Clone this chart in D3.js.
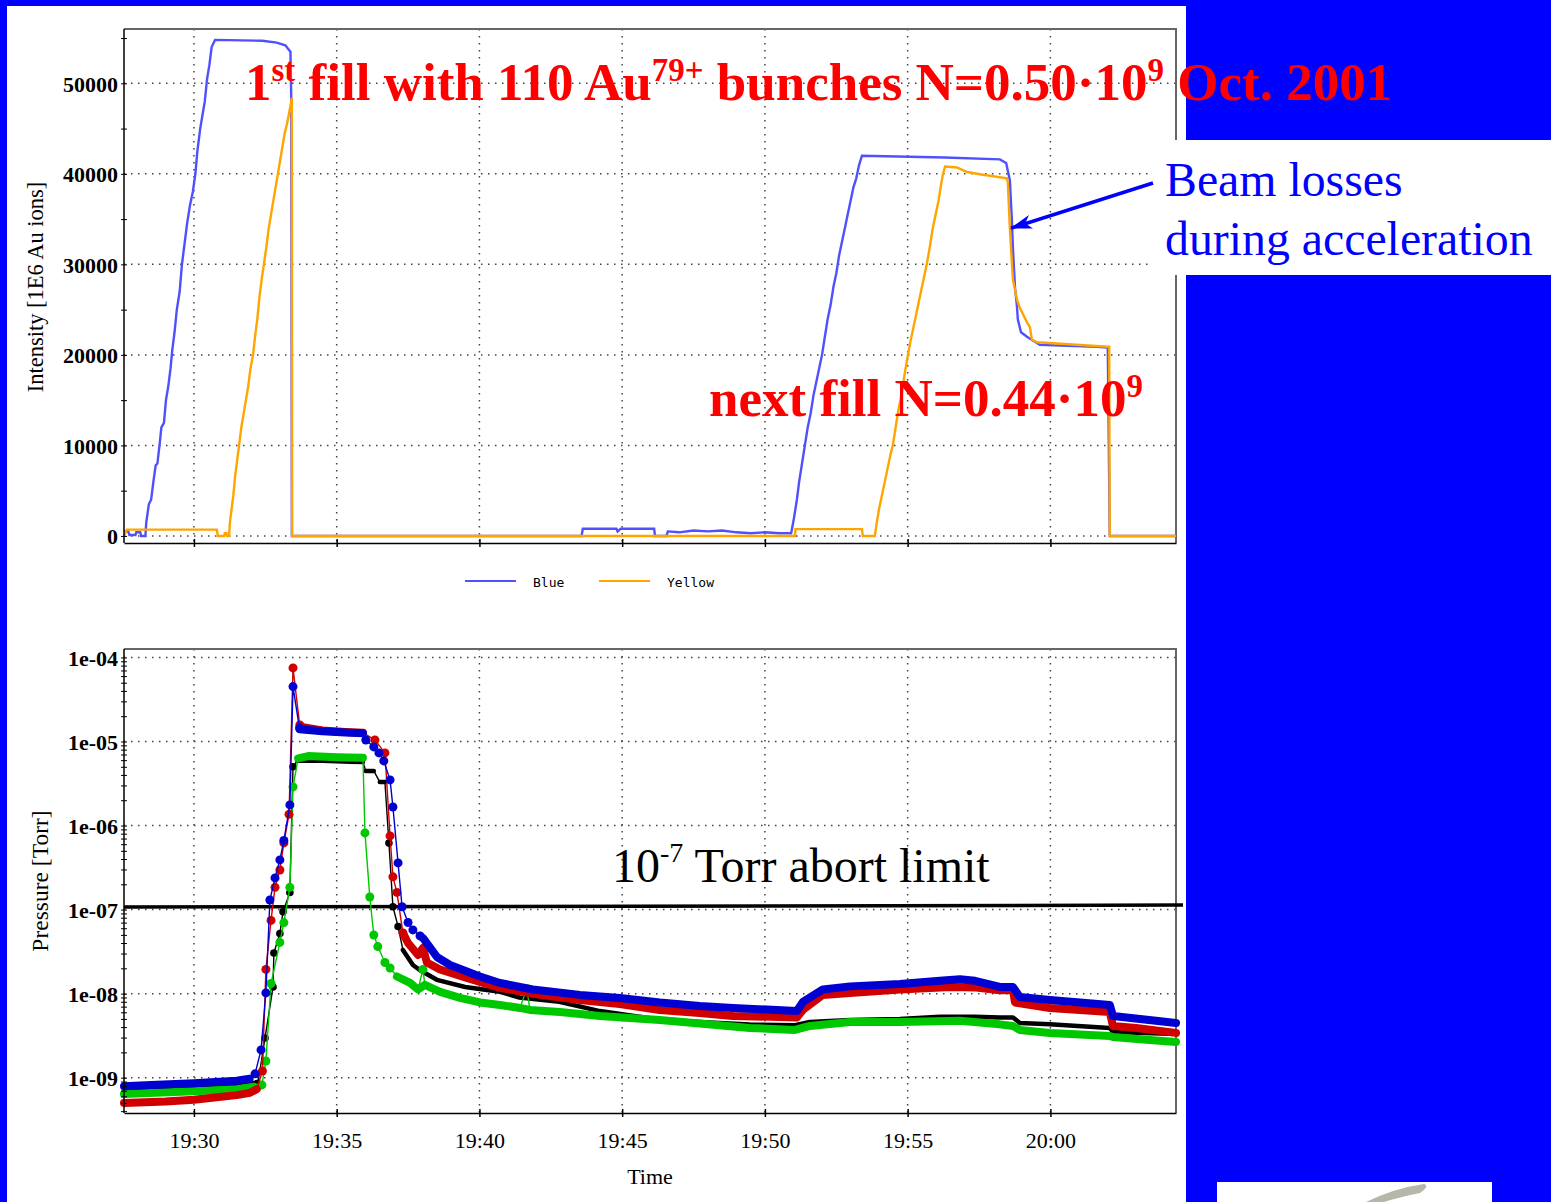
<!DOCTYPE html>
<html>
<head>
<meta charset="utf-8">
<script src="https://d3js.org/d3.v7.min.js"></script>
<style>
    body { margin: 0; background: #0000ff; }
    svg text { font-family: "Liberation Serif", "Times New Roman", serif; }
    .legend text { font-family: "DejaVu Sans Mono", monospace; }
</style>
</head>
<body>
<div id="container"></div>
<script>
// time values are minutes after 19:00
const timeTicks = ["19:30", "19:35", "19:40", "19:45", "19:50", "19:55", "20:00"];
const intensityTicks = [0, 10000, 20000, 30000, 40000, 50000];
const intensityMinor = [5000, 15000, 25000, 35000, 45000, 55000];
const pressureTicks = [1e-9, 1e-8, 1e-7, 1e-6, 1e-5, 1e-4];
const abortLimit = 1.07e-7;

const blueIntensity = [
    [27.55, 500], [27.70, 500], [27.74, 100], [27.95, 100], [27.98, 400], [28.12, 400], [28.15, 0], [28.30, 0],
    [28.33, 1500], [28.42, 3500], [28.50, 4000], [28.58, 6000], [28.66, 7800], [28.72, 8000], [28.80, 10200],
    [28.86, 12000], [28.95, 12500], [29.02, 15000], [29.10, 16500], [29.18, 18500], [29.24, 20500], [29.32, 22500],
    [29.40, 25000], [29.50, 27000], [29.58, 30000], [29.66, 32000], [29.76, 34500], [29.86, 36500], [29.96, 38000],
    [30.05, 40000], [30.12, 42500], [30.22, 45000], [30.30, 46500], [30.38, 48000], [30.46, 50500], [30.54, 52000],
    [30.62, 54000], [30.74, 54800], [32.40, 54700], [32.90, 54500], [33.20, 54200], [33.38, 53500], [33.41, 48000],
    [33.43, 0], [43.58, 0], [43.62, 800], [44.80, 800], [44.84, 500], [44.95, 800], [46.12, 800], [46.15, 0],
    [46.55, 0], [46.60, 500], [47.00, 400], [47.50, 600], [48.00, 500], [48.50, 600], [49.00, 400], [49.50, 300],
    [50.00, 400], [50.50, 300], [50.92, 300], [51.02, 2000], [51.12, 4000], [51.20, 6000], [51.30, 8000],
    [51.40, 10000], [51.50, 12000], [51.60, 13500], [51.70, 15500], [51.80, 17000], [51.90, 18500], [52.00, 20000],
    [52.10, 22000], [52.20, 24000], [52.30, 25500], [52.40, 27500], [52.50, 29000], [52.60, 31000], [52.70, 32500],
    [52.80, 34000], [52.90, 35500], [53.00, 37000], [53.10, 38500], [53.20, 39500], [53.30, 41000], [53.40, 42000],
    [56.30, 41800], [58.23, 41600], [58.45, 41200], [58.58, 39300], [58.65, 35000], [58.69, 31600], [58.76, 27500],
    [58.83, 25300], [58.86, 23900], [58.97, 22500], [59.18, 22000], [59.63, 21100], [61.63, 20900], [62.01, 20800],
    [62.08, 0], [64.40, 0]
];

const yellowIntensity = [
    [27.55, 0], [27.65, 700], [30.80, 700], [30.84, 0], [31.06, 0], [31.08, 300], [31.14, 300], [31.16, 0], [31.23, 0],
    [31.26, 1500], [31.32, 3000], [31.38, 4500], [31.44, 6500], [31.50, 8000], [31.58, 10000], [31.66, 12000],
    [31.74, 13500], [31.82, 15000], [31.90, 16500], [31.98, 18500], [32.07, 20000], [32.14, 22000], [32.22, 24000],
    [32.30, 26500], [32.38, 28500], [32.45, 30000], [32.54, 32000], [32.62, 34000], [32.70, 35500], [32.78, 37000],
    [32.86, 38500], [32.94, 40000], [33.02, 41500], [33.10, 43000], [33.18, 44500], [33.26, 45500], [33.32, 46500],
    [33.38, 47500], [33.43, 48400], [33.44, 0], [51.05, 0], [51.07, 750], [53.40, 750], [53.43, 0], [53.85, 0],
    [53.92, 1500], [54.00, 3000], [54.10, 4500], [54.20, 6000], [54.30, 7500], [54.40, 9000], [54.48, 10000],
    [54.58, 12000], [54.68, 14000], [54.78, 15500], [54.90, 18000], [55.01, 20000], [55.10, 21500], [55.20, 23000],
    [55.30, 24500], [55.40, 26000], [55.50, 27500], [55.60, 29000], [55.67, 30000], [55.78, 32000], [55.88, 34000],
    [55.98, 35500], [56.08, 37000], [56.18, 39000], [56.24, 40000], [56.31, 40800], [56.73, 40700], [57.08, 40200],
    [57.64, 39900], [58.48, 39500], [58.51, 39000], [58.58, 34000], [58.65, 30200], [58.69, 28300], [58.83, 26100],
    [58.93, 25200], [59.18, 23600], [59.28, 23100], [59.35, 21700], [59.53, 21400], [62.01, 20900], [62.06, 20900],
    [62.08, 0], [64.40, 0]
];

// pressure gauges: dense stretches (bands) and single readings (dots)
const bluePressureBand = [
    [[27.55, 7.9e-10], [28.5, 8.2e-10], [30.0, 8.6e-10], [31.5, 9.2e-10], [31.95, 9.7e-10]],
    [[33.70, 1.40e-5], [34.5, 1.32e-5], [35.3, 1.28e-5], [35.92, 1.25e-5]],
    [[37.92, 4.86e-8], [38.02, 4.6e-8], [38.51, 2.73e-8], [38.97, 2.19e-8], [40.02, 1.60e-8], [40.72, 1.34e-8],
     [41.87, 1.12e-8], [43.52, 9.66e-9], [44.92, 8.89e-9], [46.32, 7.85e-9], [47.72, 7.14e-9], [48.88, 6.76e-9],
     [51.12, 6.22e-9], [51.33, 7.96e-9], [52.03, 1.12e-8], [52.98, 1.22e-8], [54.73, 1.30e-8], [56.13, 1.42e-8],
     [56.83, 1.48e-8], [57.36, 1.42e-8], [58.23, 1.20e-8], [58.69, 1.20e-8], [58.93, 9.14e-9], [59.98, 8.41e-9],
     [62.08, 7.34e-9], [62.19, 5.43e-9], [64.40, 4.48e-9]]
];
const bluePressureDots = [
    [32.14, 1.11e-9], [32.35, 2.14e-9], [32.52, 1.02e-8], [32.66, 1.30e-7], [32.84, 2.38e-7], [33.01, 3.90e-7],
    [33.15, 6.65e-7], [33.36, 1.76e-6], [33.47, 4.5e-5], [33.70, 1.45e-5], [36.02, 1.04e-5], [36.30, 8.62e-6],
    [36.48, 7.31e-6], [36.65, 5.87e-6], [36.87, 3.49e-6], [36.97, 1.66e-6], [37.15, 3.59e-7], [37.29, 1.08e-7],
    [37.50, 7.03e-8], [37.67, 5.73e-8], [37.92, 4.86e-8]
];

const redPressureBand = [
    [[27.55, 5.0e-10], [29.0, 5.2e-10], [30.0, 5.45e-10], [31.5, 6.2e-10], [31.96, 6.6e-10], [32.2, 7.3e-10]],
    [[33.71, 1.50e-5], [34.5, 1.35e-5], [35.3, 1.30e-5], [35.92, 1.27e-5]],
    [[37.32, 5.27e-8], [37.50, 4.0e-8], [37.85, 2.88e-8], [38.02, 3.5e-8], [38.16, 2.35e-8], [38.62, 1.94e-8],
     [39.56, 1.54e-8], [40.72, 1.17e-8], [42.12, 9.66e-9], [43.52, 8.41e-9], [44.92, 7.54e-9], [46.32, 6.4e-9],
     [47.72, 5.89e-9], [48.88, 5.43e-9], [51.12, 5.21e-9], [51.33, 6.4e-9], [52.03, 9.66e-9], [52.98, 1.02e-8],
     [54.73, 1.12e-8], [56.5, 1.20e-8], [57.4, 1.18e-8], [58.23, 1.10e-8], [58.69, 1.10e-8], [58.76, 7.85e-9],
     [59.98, 6.76e-9], [62.08, 6.05e-9], [62.19, 4.13e-9], [63.0, 3.9e-9], [64.40, 3.41e-9]]
];
const redPressureDots = [
    [32.40, 1.2e-9], [32.52, 1.94e-8], [32.70, 7.43e-8], [32.84, 1.84e-7], [33.01, 2.96e-7], [33.15, 6.21e-7],
    [33.33, 1.36e-6], [33.47, 7.5e-5], [33.71, 1.57e-5], [36.34, 1.04e-5], [36.69, 7.31e-6], [36.87, 7.52e-7],
    [36.97, 2.45e-7], [37.11, 1.60e-7], [37.32, 5.27e-8]
];

const blackPressureBand = [
    [[27.55, 7.15e-10], [30.0, 7.6e-10], [31.5, 8.0e-10], [32.0, 8.4e-10], [32.25, 9.0e-10]],
    [[33.62, 5.9e-6], [34.5, 5.9e-6], [35.5, 5.75e-6], [35.92, 5.7e-6]],
    [[36.02, 4.47e-6], [36.30, 4.47e-6]],
    [[36.51, 3.30e-6], [36.69, 3.30e-6]],
    [[37.32, 3.31e-8], [37.67, 2.19e-8], [37.92, 1.9e-8], [38.51, 1.46e-8], [39.5, 1.2e-8], [40.72, 1.05e-8],
     [41.4, 9.0e-9], [42.8, 8.0e-9], [44.22, 6.2e-9], [46.32, 4.9e-9], [47.72, 4.6e-9], [49.47, 4.3e-9],
     [51.05, 4.2e-9], [51.58, 4.6e-9], [52.98, 4.86e-9], [54.73, 5.0e-9], [56.13, 5.3e-9], [57.36, 5.3e-9],
     [58.23, 5.21e-9], [58.69, 5.21e-9], [58.93, 4.48e-9], [59.98, 4.31e-9], [62.08, 3.91e-9], [62.19, 3.5e-9],
     [64.40, 3.3e-9]]
];
const blackPressureDots = [
    [32.49, 2.97e-9], [32.77, 1.2e-8], [32.80, 3.05e-8], [33.01, 5.2e-8], [33.12, 9.4e-8], [33.36, 1.6e-7],
    [33.47, 5.0e-6], [36.83, 6.2e-7], [36.97, 1.08e-7], [37.15, 6.3e-8]
];

const greenPressureBand = [
    [[27.55, 6.4e-10], [30.0, 6.9e-10], [31.5, 7.3e-10], [32.1, 7.8e-10]],
    [[33.65, 6.3e-6], [34.0, 6.7e-6], [35.0, 6.5e-6], [35.92, 6.4e-6]],
    [[37.11, 1.6e-8], [37.57, 1.34e-8], [37.85, 1.12e-8], [38.09, 1.27e-8], [38.62, 1.05e-8], [39.32, 8.9e-9],
     [40.02, 7.85e-9], [40.72, 7.34e-9], [41.42, 6.76e-9], [41.77, 6.4e-9], [42.82, 6.05e-9], [44.22, 5.43e-9],
     [46.32, 4.86e-9], [47.72, 4.4e-9], [49.47, 3.91e-9], [51.05, 3.7e-9], [51.58, 4.13e-9], [52.98, 4.6e-9],
     [54.73, 4.6e-9], [56.83, 4.75e-9], [58.23, 4.31e-9], [58.69, 4.13e-9], [58.93, 3.7e-9], [59.98, 3.41e-9],
     [62.08, 3.14e-9], [62.19, 3.05e-9], [63.48, 2.81e-9], [64.40, 2.66e-9]]
];
const greenPressureDots = [
    [32.38, 8.2e-10], [32.52, 1.58e-9], [32.70, 1.32e-8], [33.01, 4.07e-8], [33.15, 7.0e-8], [33.36, 1.84e-7],
    [33.47, 2.88e-6], [35.99, 8.17e-7], [36.16, 1.41e-7], [36.30, 4.99e-8], [36.44, 3.63e-8], [36.69, 2.35e-8],
    [36.87, 2.02e-8], [38.02, 1.94e-8], [41.66, 1.14e-8]
];

const base = new Date(2001, 9, 1, 19, 0, 0);
const toDate = (m) => new Date(base.getTime() + m * 60000);
const parseTick = d3.timeParse("%H:%M");
const tickDates = timeTicks.map((s) => {
    const t = parseTick(s);
    return toDate((t.getHours() - 19) * 60 + t.getMinutes());
});

const svg = d3.select('#container').append('svg')
    .attr('width', 1551)
    .attr('height', 1202)
    .style('display', 'block');

svg.append('rect').attr('width', 1551).attr('height', 1202).attr('fill', '#0000ff');
svg.append('rect').attr('x', 7).attr('y', 6).attr('width', 1179).attr('height', 1196).attr('fill', '#fff');

const plotLeft = 124, plotRight = 1176;
const x = d3.scaleTime()
    .domain([toDate(27.55), toDate(64.40)])
    .range([plotLeft, plotRight]);

const gridStyle = (sel) => sel
    .attr('stroke', '#444')
    .attr('stroke-width', 1.5)
    .attr('stroke-dasharray', '1.5,5.5');

// ---------- top chart: beam intensity ----------
const topY0 = 29, topY1 = 543;
const yI = d3.scaleLinear().domain([-780, 56000]).range([topY1, topY0]);

const topChart = svg.append('g');

topChart.append('g').selectAll('line').data(intensityTicks).enter().append('line')
    .attr('x1', plotLeft).attr('x2', plotRight)
    .attr('y1', (d) => yI(d)).attr('y2', (d) => yI(d))
    .call(gridStyle);
topChart.append('g').selectAll('line').data(tickDates).enter().append('line')
    .attr('x1', (d) => x(d)).attr('x2', (d) => x(d))
    .attr('y1', topY0).attr('y2', topY1)
    .call(gridStyle);

// frame
topChart.append('path')
    .attr('d', `M${plotLeft},${topY0}H${plotRight}V${topY1}`)
    .attr('fill', 'none').attr('stroke', '#666').attr('stroke-width', 2);

const intensityLine = d3.line()
    .x((d) => x(toDate(d[0])))
    .y((d) => yI(d[1]));

topChart.append('path').datum(blueIntensity)
    .attr('d', intensityLine)
    .attr('fill', 'none').attr('stroke', '#5050ff').attr('stroke-width', 2.4);
topChart.append('path').datum(yellowIntensity)
    .attr('d', intensityLine)
    .attr('fill', 'none').attr('stroke', '#ffa500').attr('stroke-width', 2.4);

const topYAxis = topChart.append('g')
    .attr('transform', `translate(${plotLeft},0)`)
    .call(d3.axisLeft(yI)
        .tickValues(intensityTicks.concat(intensityMinor))
        .tickSizeOuter(0)
        .tickSize(3)
        .tickPadding(3)
        .tickFormat((d) => intensityTicks.includes(d) ? d3.format('d')(d) : ''));
topYAxis.select('.domain').remove();
topYAxis.append('line').attr('y1', topY0).attr('y2', topY1).attr('stroke', '#000').attr('stroke-width', 1.5);
topYAxis.selectAll('.tick line').attr('x1', 3).attr('x2', -3).attr('stroke', '#000');
topYAxis.selectAll('text')
    .attr('font-size', 22).attr('font-weight', 'bold').attr('fill', '#000')
    .attr('dy', '0.36em')
    .style('font-family', '"Liberation Serif", serif');

const topXAxis = topChart.append('g')
    .attr('transform', `translate(0,${topY1})`)
    .call(d3.axisBottom(x).tickValues(tickDates).tickSizeOuter(0).tickFormat(''));
topXAxis.select('.domain').attr('stroke', '#000').attr('stroke-width', 1.5);
topXAxis.selectAll('.tick line').attr('y1', -4).attr('y2', 4).attr('stroke', '#000').attr('stroke-width', 1.5);

svg.append('text')
    .attr('transform', 'translate(43,287) rotate(-90)')
    .attr('text-anchor', 'middle')
    .attr('font-size', 22.5)
    .text('Intensity [1E6 Au ions]');

// legend
const legendItems = [
    { name: 'Blue', color: '#5050ff' },
    { name: 'Yellow', color: '#ffa500' }
];
const legend = svg.append('g').attr('class', 'legend');
const legendG = legend.selectAll('g').data(legendItems).enter().append('g')
    .attr('transform', (d, i) => `translate(${465 + i * 134},581)`);
legendG.append('line').attr('x1', 0).attr('x2', 51)
    .attr('stroke', (d) => d.color).attr('stroke-width', 2);
legendG.append('text').attr('x', 68).attr('y', 6)
    .attr('font-size', 13).attr('fill', '#000')
    .text((d) => d.name);

// ---------- bottom chart: pressure ----------
const botY0 = 649, botY1 = 1113;
const yP = d3.scaleLog().domain([3.8e-10, 1.26e-4]).range([botY1, botY0]);

const botChart = svg.append('g');

botChart.append('g').selectAll('line').data(pressureTicks).enter().append('line')
    .attr('x1', plotLeft).attr('x2', plotRight)
    .attr('y1', (d) => yP(d)).attr('y2', (d) => yP(d))
    .call(gridStyle);
botChart.append('g').selectAll('line').data(tickDates).enter().append('line')
    .attr('x1', (d) => x(d)).attr('x2', (d) => x(d))
    .attr('y1', botY0).attr('y2', botY1)
    .call(gridStyle);

botChart.append('path')
    .attr('d', `M${plotLeft},${botY0}H${plotRight}V${botY1}`)
    .attr('fill', 'none').attr('stroke', '#666').attr('stroke-width', 2);

// abort limit
botChart.append('line')
    .attr('x1', plotLeft).attr('x2', plotRight + 7)
    .attr('y1', yP(abortLimit)).attr('y2', yP(abortLimit) - 2)
    .attr('stroke', '#000').attr('stroke-width', 3.5);

const pressureLine = d3.line()
    .x((d) => x(toDate(d[0])))
    .y((d) => yP(d[1]));

const gauges = [
    { band: blackPressureBand, dots: blackPressureDots, color: '#000000', width: 4.5, r: 3.8 },
    { band: greenPressureBand, dots: greenPressureDots, color: '#00c800', width: 8, r: 4.5 },
    { band: redPressureBand, dots: redPressureDots, color: '#d00000', width: 8, r: 4.5 },
    { band: bluePressureBand, dots: bluePressureDots, color: '#0000d0', width: 8, r: 4.5 }
];

gauges.forEach((g) => {
    const all = g.band.flat().concat(g.dots).sort((a, b) => a[0] - b[0]);
    const layer = botChart.append('g');
    layer.append('path').datum(all)
        .attr('d', pressureLine)
        .attr('fill', 'none').attr('stroke', g.color).attr('stroke-width', 1.4);
    layer.selectAll('.band').data(g.band).enter().append('path')
        .attr('class', 'band')
        .attr('d', pressureLine)
        .attr('fill', 'none').attr('stroke', g.color)
        .attr('stroke-width', g.width)
        .attr('stroke-linejoin', 'round').attr('stroke-linecap', 'round');
    layer.selectAll('circle').data(g.dots).enter().append('circle')
        .attr('cx', (d) => x(toDate(d[0])))
        .attr('cy', (d) => yP(d[1]))
        .attr('r', g.r)
        .attr('fill', g.color);
});

const minorP = [];
for (let e = -10; e <= -4; e++) {
    for (let m = 2; m <= 9; m++) {
        const v = m * Math.pow(10, e);
        if (v > 3.8e-10 && v < 1.26e-4) minorP.push(v);
    }
}

const botYAxis = botChart.append('g')
    .attr('transform', `translate(${plotLeft},0)`)
    .call(d3.axisLeft(yP)
        .tickValues(pressureTicks.concat(minorP))
        .tickSize(3)
        .tickPadding(3)
        .tickSizeOuter(0)
        .tickFormat((d) => pressureTicks.includes(d) ? d3.format('.0e')(d).replace(/e-(\d)$/, 'e-0$1') : ''));
botYAxis.select('.domain').remove();
botYAxis.append('line').attr('y1', botY0).attr('y2', botY1).attr('stroke', '#000').attr('stroke-width', 1.5);
botYAxis.selectAll('.tick line').attr('x1', 3).attr('x2', -3).attr('stroke', '#000');
botYAxis.selectAll('text')
    .attr('font-size', 22).attr('font-weight', 'bold').attr('fill', '#000')
    .attr('dy', '0.36em')
    .style('font-family', '"Liberation Serif", serif');

const botXAxis = botChart.append('g')
    .attr('transform', `translate(0,${botY1})`)
    .call(d3.axisBottom(x).tickValues(tickDates).tickSizeOuter(0).tickFormat(d3.timeFormat('%H:%M')));
botXAxis.select('.domain').attr('stroke', '#000').attr('stroke-width', 1.5);
botXAxis.selectAll('.tick line').attr('y1', -4).attr('y2', 4).attr('stroke', '#000').attr('stroke-width', 1.5);
botXAxis.selectAll('text')
    .attr('y', 35).attr('dy', null)
    .attr('font-size', 22).attr('fill', '#000')
    .style('font-family', '"Liberation Serif", serif');

svg.append('text')
    .attr('x', 650).attr('y', 1184)
    .attr('text-anchor', 'middle')
    .attr('font-size', 22)
    .text('Time');

svg.append('text')
    .attr('transform', 'translate(48,881) rotate(-90)')
    .attr('text-anchor', 'middle')
    .attr('font-size', 23.5)
    .text('Pressure [Torr]');

// ---------- annotations ----------
function richText(xPos, yPos, parts, size, color, weight, supSize, rise) {
    const t = svg.append('text')
        .attr('x', xPos).attr('y', yPos)
        .attr('font-size', size)
        .attr('font-weight', weight)
        .attr('fill', color);
    let lifted = false;
    parts.forEach((p) => {
        const sup = p.startsWith('^');
        const span = t.append('tspan').text(sup ? p.slice(1) : p);
        if (sup && !lifted) { span.attr('dy', -rise).attr('font-size', supSize); lifted = true; }
        else if (sup) { span.attr('font-size', supSize); }
        else if (lifted) { span.attr('dy', rise); lifted = false; }
    });
    return t;
}

richText(245, 100, ['1', '^st', ' fill with 110 Au', '^79+', ' bunches N=0.50\u00b710', '^9', ' Oct. 2001'],
    53, '#ff0000', 'bold', 33, 19);
richText(709, 416, ['next fill N=0.44\u00b710', '^9'], 53, '#ff0000', 'bold', 33, 19);
richText(612, 882, ['10', '^-7', ' Torr abort limit'], 48, '#000', 'normal', 28, 20);

// text box on the right
svg.append('rect').attr('x', 1149).attr('y', 140).attr('width', 402).attr('height', 135).attr('fill', '#fff');
svg.append('text').attr('x', 1165).attr('y', 196).attr('font-size', 47.8).attr('fill', '#0000ff').text('Beam losses');
svg.append('text').attr('x', 1165).attr('y', 255).attr('font-size', 47.8).attr('fill', '#0000ff').text('during acceleration');

svg.append('defs').append('marker')
    .attr('id', 'arrowHead')
    .attr('viewBox', '0 0 22 14')
    .attr('refX', 21).attr('refY', 7)
    .attr('markerWidth', 22).attr('markerHeight', 14)
    .attr('markerUnits', 'userSpaceOnUse')
    .attr('orient', 'auto')
    .append('path')
    .attr('d', 'M0,0 L22,7 L0,14 L6,7 Z')
    .attr('fill', '#0000ff');

svg.append('line')
    .attr('x1', 1153).attr('y1', 183)
    .attr('x2', x(toDate(58.62))).attr('y2', yI(34000))
    .attr('stroke', '#0000ff').attr('stroke-width', 3.5)
    .attr('marker-end', 'url(#arrowHead)');

// logo corner
svg.append('rect').attr('x', 1217).attr('y', 1182).attr('width', 275).attr('height', 20).attr('fill', '#fff');
svg.append('path')
    .attr('d', 'M1366,1202 Q1395,1188 1424,1184 Q1430,1186 1420,1193 Q1400,1197 1384,1202 Z')
    .attr('fill', '#b4b8aa');
</script>
</body>
</html>
